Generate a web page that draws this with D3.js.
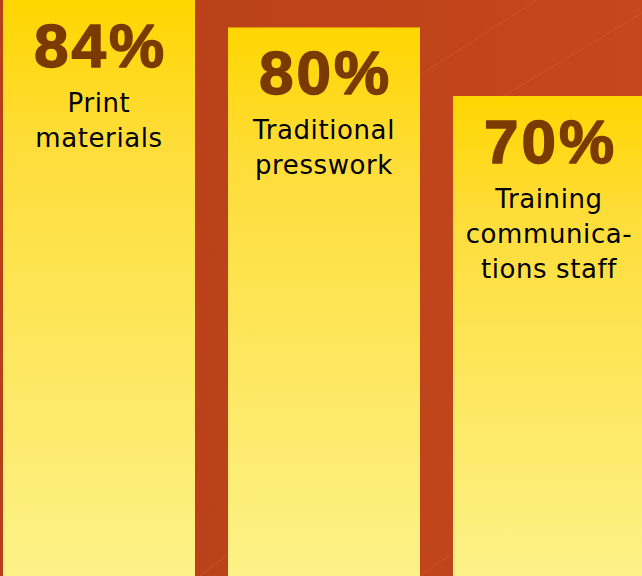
<!DOCTYPE html>
<html>
<head>
<meta charset="utf-8">
<script src="https://cdn.jsdelivr.net/npm/d3@7"></script>
<style>
  html, body { margin: 0; padding: 0; background: #BC4119; }
  svg { display: block; }
</style>
</head>
<body>
<svg id="chart" width="642" height="576"></svg>
<script>
const categories = ["Print materials", "Traditional presswork", "Training communications staff"];
const values = [84, 80, 70];
const valueLabels = ["84%", "80%", "70%"];
const labelLines = [
  ["Print", "materials"],
  ["Traditional", "presswork"],
  ["Training", "communica-", "tions staff"]
];

const W = 642, H = 576;
const svg = d3.select("#chart");
const defs = svg.append("defs");

const bg = defs.append("linearGradient").attr("id", "bgGrad")
  .attr("x1", 0).attr("y1", 0).attr("x2", 1).attr("y2", 0);
bg.append("stop").attr("offset", 0).attr("stop-color", "#B63F1A");
bg.append("stop").attr("offset", 1).attr("stop-color", "#C6471A");

const barGrad = defs.append("linearGradient").attr("id", "barGrad")
  .attr("x1", 0).attr("y1", 0).attr("x2", 0).attr("y2", 1);
barGrad.append("stop").attr("offset", 0).attr("stop-color", "#FFD600");
barGrad.append("stop").attr("offset", 0.25).attr("stop-color", "#FEDD3A");
barGrad.append("stop").attr("offset", 1).attr("stop-color", "#FDF288");

svg.append("rect").attr("width", W).attr("height", H).attr("fill", "url(#bgGrad)");

// faint decorative diagonal streaks
const streaks = [[400, 88, 537, 0], [480, 110, 642, 13], [560, 150, 642, 95], [200, 576, 260, 530], [420, 576, 450, 555]];
svg.append("g").selectAll("line").data(streaks).join("line")
  .attr("x1", d => d[0]).attr("y1", d => d[1]).attr("x2", d => d[2]).attr("y2", d => d[3])
  .attr("stroke", "#E0703A").attr("stroke-opacity", 0.25).attr("stroke-width", 1.2);

const x = d3.scaleBand().domain(categories).range([3, 645]).paddingInner(33 / 225).paddingOuter(0);
const y = d3.scaleLinear().domain([0, 84]).range([H, 0]);

const g = svg.append("g").selectAll("g").data(categories).join("g")
  .attr("transform", (d, i) => `translate(${x(d)},${y(values[i])})`);

g.append("rect")
  .attr("width", x.bandwidth())
  .attr("height", (d, i) => H - y(values[i]) + 2)
  .attr("fill", "url(#barGrad)");

g.append("text")
  .attr("x", x.bandwidth() / 2 + 1.5)
  .attr("y", 67)
  .attr("text-anchor", "middle")
  .attr("font-family", "'Liberation Sans', Arial, sans-serif")
  .attr("font-weight", 700)
  .attr("font-size", 62)
  .attr("letter-spacing", 3)
  .attr("fill", "#7A3A00")
  .attr("stroke", "#7A3A00")
  .attr("stroke-width", 1.5)
  .attr("stroke-linejoin", "round")
  .attr("paint-order", "stroke")
  .text((d, i) => valueLabels[i]);

g.each(function(d, i) {
  const t = d3.select(this).append("text")
    .attr("text-anchor", "middle")
    .attr("font-family", "'DejaVu Sans', sans-serif")
    .attr("font-size", 26)
    .attr("letter-spacing", 0.6)
    .attr("fill", "#000");
  labelLines[i].forEach((ln, j) => {
    t.append("tspan").attr("x", x.bandwidth() / 2).attr("y", 112 + j * 35).text(ln);
  });
});
</script>
</body>
</html>
